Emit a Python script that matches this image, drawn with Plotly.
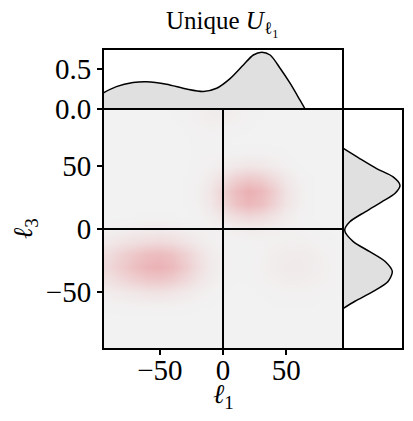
import plotly.graph_objects as go

# heatmap grid (ell_1 columns, ell_3 rows)
grid_l1 = [-90, -80, -70, -60, -50, -40, -30, -20, -10, 0, 10, 20, 30, 40, 50, 60, 70, 80, 90]
grid_l3 = [-90, -80, -70, -60, -50, -40, -30, -20, -10, 0, 10, 20, 30, 40, 50, 60, 70, 80, 90]
density = [
    [0, 0, 0, 0, 0, 0, 0, 0, 0, 0, 0, 0, 0, 0, 0, 0, 0, 0, 0],
    [0, 0, 0, 0, 0, 0, 0, 0, 0, 0, 0, 0, 0, 0, 0, 0, 0, 0, 0],
    [0, 0, 0, 0, 0, 0, 0, 0, 0, 0, 0, 0, 0, 0, 0, 0, 0, 0, 0],
    [0.02, 0.03, 0.04, 0.04, 0.05, 0.04, 0.03, 0.01, 0.01, 0, 0, 0, 0, 0.01, 0.01, 0.01, 0.01, 0, 0],
    [0.09, 0.13, 0.17, 0.21, 0.22, 0.19, 0.13, 0.07, 0.03, 0.01, 0, 0, 0.01, 0.02, 0.03, 0.03, 0.03, 0.02, 0.01],
    [0.24, 0.36, 0.47, 0.56, 0.58, 0.51, 0.36, 0.19, 0.08, 0.02, 0.01, 0.01, 0.03, 0.05, 0.08, 0.08, 0.06, 0.04, 0.02],
    [0.37, 0.54, 0.71, 0.85, 0.89, 0.78, 0.54, 0.29, 0.12, 0.04, 0.01, 0.01, 0.04, 0.08, 0.11, 0.12, 0.09, 0.05, 0.02],
    [0.31, 0.46, 0.60, 0.71, 0.75, 0.66, 0.46, 0.24, 0.10, 0.03, 0.01, 0.01, 0.03, 0.07, 0.09, 0.10, 0.08, 0.04, 0.02],
    [0.14, 0.21, 0.27, 0.32, 0.34, 0.30, 0.21, 0.11, 0.05, 0.02, 0.01, 0.02, 0.03, 0.04, 0.05, 0.05, 0.04, 0.02, 0.01],
    [0.04, 0.05, 0.07, 0.09, 0.09, 0.08, 0.05, 0.04, 0.03, 0.04, 0.07, 0.09, 0.08, 0.06, 0.04, 0.03, 0.01, 0.01, 0],
    [0, 0, 0.01, 0.01, 0.01, 0.01, 0, 0.02, 0.07, 0.18, 0.31, 0.38, 0.33, 0.21, 0.09, 0.03, 0.01, 0, 0],
    [0, 0, 0, 0, 0, 0, 0.01, 0.04, 0.15, 0.38, 0.66, 0.81, 0.71, 0.44, 0.19, 0.06, 0.01, 0, 0],
    [0, 0, 0, 0, 0, 0, 0.01, 0.05, 0.17, 0.43, 0.75, 0.92, 0.80, 0.50, 0.21, 0.07, 0.01, 0, 0],
    [0, 0, 0, 0, 0, 0, 0.01, 0.03, 0.10, 0.26, 0.45, 0.55, 0.48, 0.30, 0.13, 0.04, 0.01, 0, 0],
    [0, 0, 0, 0, 0, 0, 0, 0.02, 0.04, 0.08, 0.14, 0.17, 0.15, 0.09, 0.04, 0.01, 0, 0, 0],
    [0, 0, 0, 0, 0, 0, 0, 0.02, 0.02, 0.02, 0.02, 0.03, 0.03, 0.02, 0.01, 0, 0, 0, 0],
    [0, 0, 0, 0, 0, 0, 0, 0.02, 0.02, 0.01, 0, 0, 0, 0, 0, 0, 0, 0, 0],
    [0, 0, 0, 0, 0, 0, 0.01, 0.03, 0.04, 0.03, 0.02, 0.01, 0, 0, 0, 0, 0, 0, 0],
    [0, 0, 0, 0, 0, 0.01, 0.02, 0.05, 0.08, 0.08, 0.05, 0.02, 0.01, 0, 0, 0, 0, 0, 0],
]

# marginal of ell_1 (top panel)
top_l1 = [-95, -84.4, -71.2, -60.6, -44.7, -28.8, -15.6, -5, 5.6, 16.1, 24, 30.7, 37.3, 45.2, 53.2, 61, 65]
top_val = [0.20, 0.28, 0.33, 0.34, 0.31, 0.25, 0.22, 0.26, 0.38, 0.55, 0.675, 0.71, 0.675, 0.51, 0.32, 0.11, 0.0]

# marginal of ell_3 (right panel)
right_l3 = [64, 55.6, 47.8, 41.2, 34.6, 28.1, 21.5, 13.6, 5.7, -1, -10, -17.9, -25.7, -33.6, -41.5, -49.4, -57.2, -63]
right_val = [0.0, 0.30, 0.59, 0.88, 1.0, 0.91, 0.68, 0.39, 0.12, 0.03, 0.18, 0.47, 0.74, 0.865, 0.79, 0.53, 0.21, 0.0]

# page body has an 8px margin, so the figure is 8px smaller and shifted
OFF = 8
W, H = 413 - OFF, 421 - OFF
serif = "Liberation Serif, DejaVu Serif, serif"

def fx(px):
    return (px - OFF) / W

def fy(py):
    return 1 - (py - OFF) / H

fig = go.Figure()

fig.add_trace(go.Heatmap(
    x=grid_l1, y=grid_l3, z=density,
    zmin=0, zmax=1, zsmooth="best",
    colorscale=[[0, "#f2f2f2"], [1, "#eaaaad"]],
    showscale=False, hoverinfo="skip",
    xaxis="x", yaxis="y",
))

fig.add_trace(go.Scatter(
    x=top_l1, y=top_val, mode="lines",
    line=dict(color="black", width=1.5, shape="spline", smoothing=0.8),
    fill="tozeroy", fillcolor="#e0e0e0",
    xaxis="x2", yaxis="y2", showlegend=False,
))

fig.add_trace(go.Scatter(
    x=right_val, y=right_l3, mode="lines",
    line=dict(color="black", width=1.5, shape="spline", smoothing=0.8),
    fill="tozerox", fillcolor="#e0e0e0",
    xaxis="x3", yaxis="y3", showlegend=False,
))

base = dict(showline=False, showgrid=False, zeroline=False, automargin=False)
tickfont = dict(family=serif, size=29, color="black")
tickstyle = dict(ticks="outside", ticklen=5, tickwidth=1.5, tickcolor="black",
                 tickfont=tickfont)

def box(xr, yr):
    return dict(type="rect", xref=xr + " domain", yref=yr + " domain",
                x0=0, x1=1, y0=0, y1=1, line=dict(color="black", width=2),
                fillcolor="rgba(0,0,0,0)", layer="above")

fig.update_layout(
    width=W, height=H,
    margin=dict(l=0, r=0, t=0, b=0),
    paper_bgcolor="white", plot_bgcolor="white",
    showlegend=False,
    xaxis=dict(domain=[fx(103), fx(343)], range=[-95, 95], anchor="y",
               tickvals=[-50, 0, 50], ticklabelstandoff=-10, **tickstyle, **base),
    yaxis=dict(domain=[fy(349), fy(109)], range=[-95, 95], anchor="x",
               tickvals=[-50, 0, 50], **tickstyle, **base),
    xaxis2=dict(domain=[fx(103), fx(343)], range=[-95, 95], anchor="y2",
                showticklabels=False, ticks="", **base),
    yaxis2=dict(domain=[fy(109), fy(49)], range=[0, 0.75], anchor="x2",
                tickvals=[0, 0.5], ticktext=["0.0", "0.5"], **tickstyle, **base),
    xaxis3=dict(domain=[fx(343), fx(403)], range=[0, 1.053], anchor="y3",
                showticklabels=False, ticks="", **base),
    yaxis3=dict(domain=[fy(349), fy(109)], range=[-95, 95], anchor="x3",
                showticklabels=False, ticks="", **base),
    shapes=[
        dict(type="line", xref="x", yref="y domain", x0=0, x1=0, y0=0, y1=1,
             line=dict(color="black", width=2)),
        dict(type="line", xref="x domain", yref="y", x0=0, x1=1, y0=0, y1=0,
             line=dict(color="black", width=2)),
        box("x", "y"),
        box("x2", "y2"),
        box("x3", "y3"),
    ],
    annotations=[
        dict(text="Unique <i>U</i><sub>ℓ<sub>1</sub></sub>", x=fx(222), y=fy(24),
             xref="paper", yref="paper", showarrow=False,
             xanchor="center", yanchor="middle",
             font=dict(family=serif, size=25, color="black")),
        dict(text="<i>ℓ</i><sub>1</sub>", x=fx(223), y=fy(396),
             xref="paper", yref="paper", showarrow=False,
             xanchor="center", yanchor="middle",
             font=dict(family=serif, size=27, color="black")),
        dict(text="<i>ℓ</i><sub>3</sub>", x=fx(25), y=fy(229), textangle=-90,
             xref="paper", yref="paper", showarrow=False,
             xanchor="center", yanchor="middle",
             font=dict(family=serif, size=27, color="black")),
    ],
)

fig.write_html("out.html")
